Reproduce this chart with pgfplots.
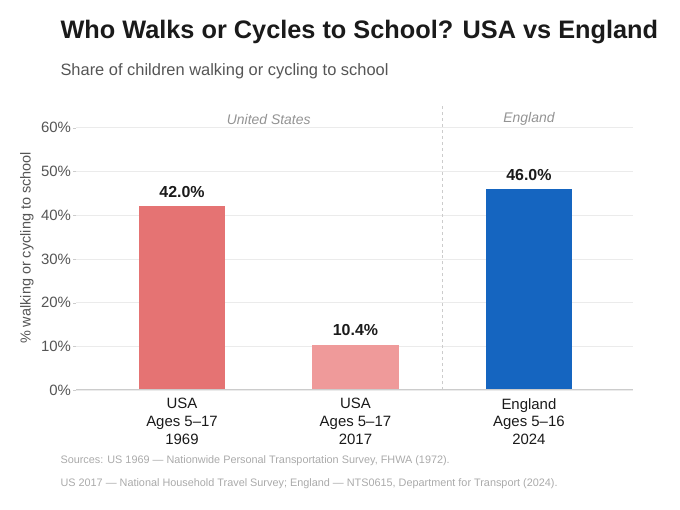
\documentclass[border=0pt]{standalone}
\usepackage{pgfplots}
\pgfplotsset{compat=1.18}
\usepackage{fontspec}
\setmainfont{Liberation Sans}
\definecolor{barA}{HTML}{E57373}
\definecolor{barB}{HTML}{EF9A9A}
\definecolor{barC}{HTML}{1565C0}
\definecolor{gridc}{HTML}{EBEBEB}
\definecolor{axisc}{HTML}{CCCCCC}
\definecolor{tickc}{HTML}{555555}
\definecolor{titlec}{HTML}{1A1A1A}
\definecolor{srcc}{HTML}{AAAAAA}
\begin{document}
\begin{tikzpicture}[x=1bp,y=1bp]
\useasboundingbox (0,0) rectangle (680,510);
\node[anchor=west,text=titlec,font=\bfseries\fontsize{25.4}{30}\selectfont] at (57,478) {Who Walks or Cycles to School? USA vs England};
\node[anchor=west,text=tickc,font=\fontsize{16.5}{20}\selectfont] at (57,439) {Share of children walking or cycling to school};
\begin{axis}[
  at={(76bp,120bp)}, anchor=south west,
  scale only axis, width=557bp, height=284bp,
  xmin=-0.611, xmax=2.6, ymin=0, ymax=65,
  ybar, bar width=0.5, bar shift=0pt,
  axis line style={draw=none},
  axis x line*=bottom, axis y line*=left,
  xtick={0,1,2},
  xticklabels={{USA\\Ages 5--17\\1969},{USA\\Ages 5--17\\2017},{England\\Ages 5--16\\2024}},
  xticklabel style={align=center,text=titlec,font=\fontsize{15}{18}\selectfont,inner sep=2bp,yshift=-3bp},
  x tick style={draw=none},
  ytick={0,10,20,30,40,50,60},
  yticklabel={\pgfmathprintnumber{\tick}\%},
  yticklabel style={text=tickc,font=\fontsize{15}{18}\selectfont,xshift=1.5bp},
  y tick style={draw=axisc},
  major tick length=3bp, tick align=outside,
  /pgf/number format/assume math mode=true,
  ymajorgrids, grid style={draw=gridc,line width=0.8bp},
  ylabel={\% walking or cycling to school},
  every axis y label/.style={at={(axis description cs:-0.088,0.5)},rotate=90,anchor=center,text=tickc,font=\fontsize{14.5}{18}\selectfont},
  nodes near coords={\pgfmathprintnumber[fixed,fixed zerofill,precision=1]{\pgfplotspointmeta}\%},
  nodes near coords style={font=\bfseries\fontsize{16}{18}\selectfont,text=titlec,anchor=south,yshift=5bp},
  clip=false,
]
\addplot[fill=barA,draw=none] coordinates {(0,42.0)};
\addplot[fill=barB,draw=none] coordinates {(1,10.4)};
\addplot[fill=barC,draw=none] coordinates {(2,46.0)};
\draw[axisc,line width=1bp] (axis cs:-0.611,0) -- (axis cs:2.6,0);
\draw[axisc,dashed,line width=0.7bp] (axis cs:1.5,0) -- (axis cs:1.5,65);
\node[text=gray!85,font=\itshape\fontsize{14}{16}\selectfont] at (axis cs:0.5,62.0) {United States};
\node[text=gray!85,font=\itshape\fontsize{14}{16}\selectfont] at (axis cs:2,62.0) {England};
\end{axis}
\node[anchor=west,text=srcc,font=\fontsize{10.9}{13}\selectfont] at (57,49) {Sources: US 1969 --- Nationwide Personal Transportation Survey, FHWA (1972).};
\node[anchor=west,text=srcc,font=\fontsize{10.9}{13}\selectfont] at (57,26) {US 2017 --- National Household Travel Survey; England --- NTS0615, Department for Transport (2024).};
\end{tikzpicture}
\end{document}
